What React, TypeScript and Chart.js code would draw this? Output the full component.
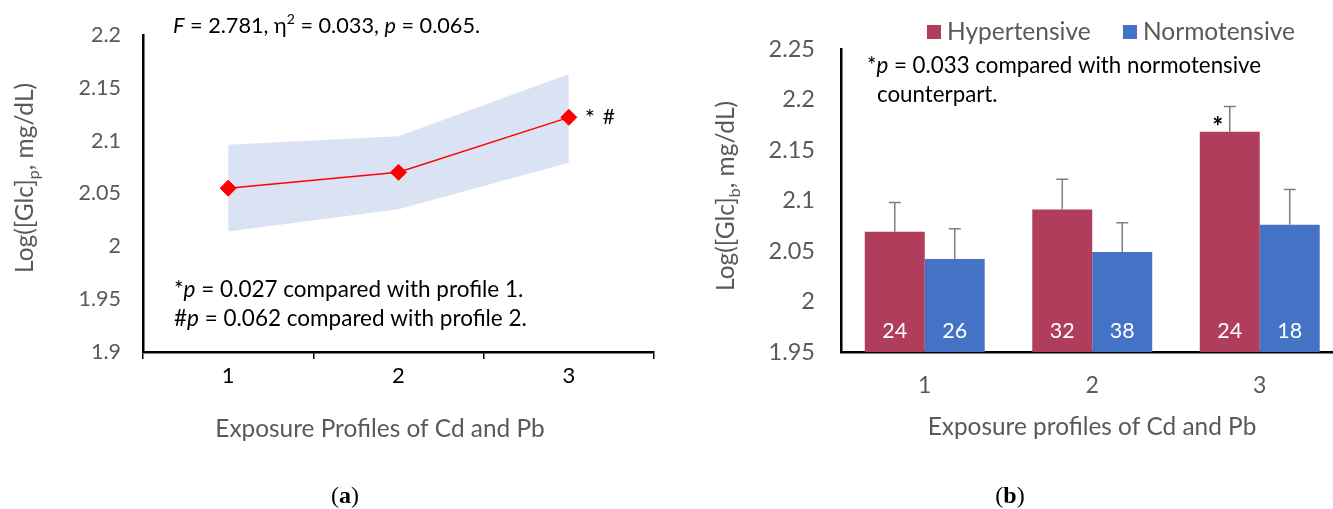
import React, { useEffect, useRef } from 'react';
import { Chart, registerables } from 'chart.js';

Chart.register(...registerables);

const FONT = 'Lato, "Open Sans", sans-serif';
const SERIF = '"Liberation Serif", "DejaVu Serif", serif';
const GRAY = '#595959';

// ---------- data: panel (a) ----------
const profilesA = ['1', '2', '3'];
const meanA = [2.055, 2.07, 2.122];
const upperA = [2.096, 2.104, 2.163];
const lowerA = [2.014, 2.035, 2.079];
const yMinA = 1.9;
const yMaxA = 2.2;
const yStepA = 0.05;

// ---------- data: panel (b) ----------
const profilesB = ['1', '2', '3'];
const seriesB = ['Hypertensive', 'Normotensive'];
const hyperB = [2.069, 2.091, 2.168];
const hyperSdB = [0.029, 0.03, 0.025];
const normoB = [2.042, 2.049, 2.076];
const normoSdB = [0.03, 0.029, 0.035];
const nHyperB = [24, 32, 24];
const nNormoB = [26, 38, 18];
const yMinB = 1.95;
const yMaxB = 2.25;
const yStepB = 0.05;

const HYPER_COLOR = '#AF3D5B';
const NORMO_COLOR = '#4472C4';

type Seg = { t: string; i?: boolean; b?: boolean; sup?: boolean; sub?: boolean; f?: string };

function drawRich(
  ctx: CanvasRenderingContext2D,
  segs: Seg[],
  x: number,
  y: number,
  size: number,
  color: string,
  align: 'left' | 'center' = 'left',
  family: string = FONT
) {
  const fontFor = (s: Seg) => {
    const sz = s.sup || s.sub ? Math.round(size * 0.65) : size;
    return `${s.i ? 'italic ' : ''}${s.b ? 'bold ' : ''}${sz}px ${s.f || family}`;
  };
  let total = 0;
  for (const s of segs) {
    ctx.font = fontFor(s);
    total += ctx.measureText(s.t).width;
  }
  let cx = align === 'center' ? x - total / 2 : x;
  ctx.save();
  ctx.fillStyle = color;
  ctx.textAlign = 'left';
  ctx.textBaseline = 'alphabetic';
  for (const s of segs) {
    ctx.font = fontFor(s);
    const dy = s.sup ? -size * 0.4 : s.sub ? size * 0.25 : 0;
    ctx.fillText(s.t, cx, y + dy);
    cx += ctx.measureText(s.t).width;
  }
  ctx.restore();
}

function drawRotated(
  ctx: CanvasRenderingContext2D,
  segs: Seg[],
  x: number,
  y: number,
  size: number,
  color: string
) {
  ctx.save();
  ctx.translate(x, y);
  ctx.rotate(-Math.PI / 2);
  drawRich(ctx, segs, 0, 0, size, color, 'center');
  ctx.restore();
}

const fmtTick = (v: any) => String(Number(Number(v).toFixed(2)));

const annotA = {
  id: 'annotA',
  afterDraw(chart: any) {
    const ctx: CanvasRenderingContext2D = chart.ctx;
    drawRich(
      ctx,
      [
        { t: 'F', i: true },
        { t: ' = 2.781, η' },
        { t: '2', sup: true },
        { t: ' = 0.033, ' },
        { t: 'p', i: true },
        { t: ' = 0.065.' },
      ],
      173,
      33,
      21.7,
      '#000'
    );
    drawRich(ctx, [{ t: '*' }, { t: 'p', i: true }, { t: ' = 0.027 compared with profile 1.' }], 174, 297, 22.5, '#000');
    drawRich(ctx, [{ t: '#' }, { t: 'p', i: true }, { t: ' = 0.062 compared with profile 2.' }], 174, 326, 22.5, '#000');
    const meta = chart.getDatasetMeta(0);
    const p3 = meta.data[2];
    drawRich(ctx, [{ t: '*' }], p3.x + 16, p3.y + 9, 24, '#000');
    drawRich(ctx, [{ t: '#' }], p3.x + 34, p3.y + 7, 21, '#000');
    drawRich(ctx, [{ t: 'Exposure Profiles of Cd and Pb' }], 380, 437, 24.4, GRAY, 'center');
    drawRotated(ctx, [{ t: 'Log([Glc]' }, { t: 'p', sub: true }, { t: ', mg/dL)' }], 33, 178, 24.5, GRAY);
    drawRich(
      ctx,
      [{ t: '(' }, { t: 'a', b: true }, { t: ')' }],
      345,
      503,
      24,
      '#000',
      'center',
      SERIF
    );
  },
};

const annotB = {
  id: 'annotB',
  afterDatasetsDraw(chart: any) {
    const ctx: CanvasRenderingContext2D = chart.ctx;
    const yScale = chart.scales.y;
    const vals = [hyperB, normoB];
    const sds = [hyperSdB, normoSdB];
    const ns = [nHyperB, nNormoB];
    ctx.save();
    for (let d = 0; d < 2; d++) {
      const meta = chart.getDatasetMeta(d);
      meta.data.forEach((bar: any, j: number) => {
        const top = yScale.getPixelForValue(vals[d][j] + sds[d][j]);
        ctx.strokeStyle = '#7F7F7F';
        ctx.lineWidth = 1.5;
        ctx.beginPath();
        ctx.moveTo(bar.x, bar.y);
        ctx.lineTo(bar.x, top);
        ctx.moveTo(bar.x - 6, top);
        ctx.lineTo(bar.x + 6, top);
        ctx.stroke();
        drawRich(ctx, [{ t: String(ns[d][j]) }], bar.x, 338, 21.5, '#FFFFFF', 'center');
      });
    }
    ctx.restore();
    const h3 = chart.getDatasetMeta(0).data[2];
    drawRich(ctx, [{ t: '*', b: true }], h3.x - 12, h3.y + 4, 26, '#000', 'center');
  },
  afterDraw(chart: any) {
    const ctx: CanvasRenderingContext2D = chart.ctx;
    drawRich(
      ctx,
      [{ t: '*' }, { t: 'p', i: true }, { t: ' = 0.033 compared with normotensive' }],
      187,
      73,
      22.3,
      '#000'
    );
    drawRich(ctx, [{ t: 'counterpart.' }], 197, 102, 22.3, '#000');
    // legend
    const legendX = [247, 443];
    const colors = [HYPER_COLOR, NORMO_COLOR];
    seriesB.forEach((name, i) => {
      ctx.fillStyle = colors[i];
      ctx.fillRect(legendX[i], 25, 14, 14);
      drawRich(ctx, [{ t: name }], legendX[i] + 20, 40, 24.5, GRAY);
    });
    drawRich(ctx, [{ t: 'Exposure profiles of Cd and Pb' }], 412, 435, 24.4, GRAY, 'center');
    drawRotated(ctx, [{ t: 'Log([Glc]' }, { t: 'b', sub: true }, { t: ', mg/dL)' }], 54, 196, 24.5, GRAY);
    drawRich(
      ctx,
      [{ t: '(' }, { t: 'b', b: true }, { t: ')' }],
      330,
      503,
      24,
      '#000',
      'center',
      SERIF
    );
  },
};

function ChartA() {
  const ref = useRef<HTMLCanvasElement>(null);
  useEffect(() => {
    if (!ref.current) return;
    const chart = new Chart(ref.current, {
      type: 'line',
      data: {
        labels: profilesA,
        datasets: [
          {
            label: 'Mean',
            data: meanA,
            borderColor: '#FF0000',
            backgroundColor: '#FF0000',
            borderWidth: 1.5,
            pointStyle: 'rectRot',
            pointRadius: 8,
            pointBackgroundColor: '#FF0000',
            pointBorderColor: '#FF0000',
            pointBorderWidth: 1,
            fill: false,
            tension: 0,
          },
          {
            label: 'Lower',
            data: lowerA,
            borderWidth: 0,
            pointRadius: 0,
            fill: false,
            borderColor: 'rgba(0,0,0,0)',
          },
          {
            label: 'Upper',
            data: upperA,
            borderWidth: 0,
            pointRadius: 0,
            borderColor: 'rgba(0,0,0,0)',
            backgroundColor: '#DAE3F3',
            fill: 1,
          },
        ],
      },
      options: {
        animation: false,
        responsive: false,
        devicePixelRatio: 1,
        layout: { padding: { left: 0, top: 32, right: 26, bottom: 0 } },
        plugins: { legend: { display: false }, tooltip: { enabled: false } },
        scales: {
          x: {
            offset: true,
            afterFit: (s: any) => {
              s.height = 157;
            },
            grid: {
              display: true,
              offset: true,
              drawOnChartArea: false,
              drawTicks: true,
              tickLength: 7,
              color: '#000',
              lineWidth: 1.5,
            },
            border: { display: true, color: '#000', width: 2.5 },
            ticks: { color: '#000', font: { family: FONT, size: 22 }, padding: 4 },
          },
          y: {
            min: yMinA,
            max: yMaxA,
            afterFit: (s: any) => {
              s.width = 143;
            },
            grid: { display: false, drawTicks: false },
            border: { display: true, color: '#000', width: 2.5 },
            ticks: {
              stepSize: yStepA,
              color: GRAY,
              font: { family: FONT, size: 21.5 },
              padding: 22,
              callback: fmtTick,
            },
          },
        },
      },
      plugins: [annotA],
    } as any);
    return () => chart.destroy();
  }, []);
  return (
    <canvas
      ref={ref}
      width={680}
      height={509}
      style={{ position: 'absolute', left: 0, top: 0, width: 680, height: 509 }}
    />
  );
}

function ChartB() {
  const ref = useRef<HTMLCanvasElement>(null);
  useEffect(() => {
    if (!ref.current) return;
    const chart = new Chart(ref.current, {
      type: 'bar',
      data: {
        labels: profilesB,
        datasets: [
          {
            label: seriesB[0],
            data: hyperB,
            backgroundColor: HYPER_COLOR,
            borderWidth: 0,
            barPercentage: 1,
            categoryPercentage: 0.716,
          },
          {
            label: seriesB[1],
            data: normoB,
            backgroundColor: NORMO_COLOR,
            borderWidth: 0,
            barPercentage: 1,
            categoryPercentage: 0.716,
          },
        ],
      },
      options: {
        animation: false,
        responsive: false,
        devicePixelRatio: 1,
        layout: { padding: { left: 0, top: 49, right: 26.5, bottom: 0 } },
        plugins: { legend: { display: false }, tooltip: { enabled: false } },
        scales: {
          x: {
            afterFit: (s: any) => {
              s.height = 157;
            },
            grid: { display: false, drawTicks: false },
            border: { display: true, color: '#000', width: 2.5 },
            ticks: { color: GRAY, font: { family: FONT, size: 23 }, padding: 20 },
          },
          y: {
            min: yMinB,
            max: yMaxB,
            afterFit: (s: any) => {
              s.width = 161;
            },
            grid: { display: false, drawTicks: false },
            border: { display: true, color: '#000', width: 2.5 },
            ticks: {
              stepSize: yStepB,
              color: GRAY,
              font: { family: FONT, size: 23.5 },
              padding: 26,
              callback: fmtTick,
            },
          },
        },
      },
      plugins: [annotB],
    } as any);
    return () => chart.destroy();
  }, []);
  return (
    <canvas
      ref={ref}
      width={690}
      height={509}
      style={{ position: 'absolute', left: 680, top: 0, width: 690, height: 509 }}
    />
  );
}

export default function App() {
  return (
    <div
      style={{
        position: 'fixed',
        left: 0,
        top: 0,
        width: 1333,
        height: 509,
        overflow: 'hidden',
        background: '#FFFFFF',
      }}
    >
      <ChartA />
      <ChartB />
    </div>
  );
}
